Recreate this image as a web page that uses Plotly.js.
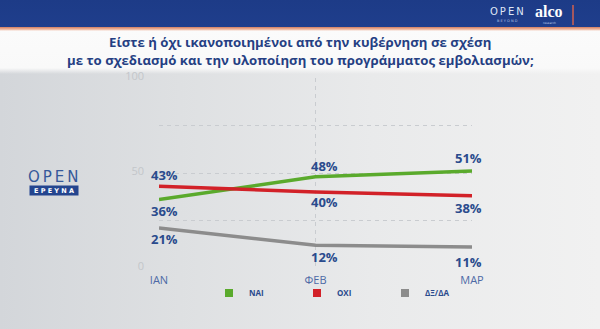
<!DOCTYPE html>
<html><head><meta charset="utf-8">
<script src="https://cdn.plot.ly/plotly-3.0.1.min.js"></script>
<style>
html,body{margin:0;padding:0;background:#f2f2f2;}
#chart{width:600px;height:329px;background:
 linear-gradient(to bottom,#1d3b87 0px,#1f3e8c 27px,#d98a6e 27.5px,#f0bea8 29.5px,#fbfbfb 31px,#f9f9f9 68px,rgba(249,249,249,0) 74px),
 linear-gradient(to right,#d3d6da 0%,#dee0e2 30%,#e9eaeb 62%,#f1f1f1 100%);}
</style></head><body><div id="chart"></div>
<script>
// ---- data ----
const months = ["ΙΑΝ", "ΦΕΒ", "ΜΑΡ"];
const seriesNames = ["ΝΑΙ", "ΟΧΙ", "ΔΞ/ΔΑ"];
const yesValues = [36, 48, 51];
const noValues = [43, 40, 38];
const dknaValues = [21, 12, 11];
const yTickValues = [0, 25, 50, 75, 100];
const yTickLabels = ["0", "", "50", "", "100"];
const titleLines = [
  "Είστε ή όχι ικανοποιημένοι από την κυβέρνηση σε σχέση",
  "με το σχεδιασμό και την υλοποίηση του προγράμματος εμβολιασμών;"
];

// ---- layout helpers ----
const W = 600, H = 329, L = 159, R = 472, T = 78, B = 268;
const fx = px => (px - L) / (R - L);
const fy = py => (B - py) / (B - T);

const colors = ["#5aaa2c", "#d22128", "#8c8c8c"];
const seriesValues = [yesValues, noValues, dknaValues];
const labelShift = [[-11, 11, 13], [11, -10, -12], [-11, -12, -15]];
const labelXShift = [5, 9, -4];
const blueText = "#2a4b8d";

const traces = [];
seriesValues.forEach((vals, s) => {
  traces.push({
    x: months, y: vals, type: "scatter", mode: "lines",
    line: {color: colors[s], width: 3.5}, showlegend: false, hoverinfo: "skip"
  });
});
// legend entries (square swatches)
seriesNames.forEach((name, s) => {
  traces.push({
    x: [null], y: [null], type: "scatter", mode: "markers", name: name,
    marker: {symbol: "square", size: 8, color: colors[s]}, showlegend: true
  });
});

const annotations = [];
seriesValues.forEach((vals, s) => {
  vals.forEach((v, i) => {
    annotations.push({
      x: months[i], y: v, xref: "x", yref: "y", text: v + "%", showarrow: false,
      xanchor: "center", yanchor: "middle",
      yshift: labelShift[s][i], xshift: labelXShift[i],
      font: {family: "Open Sans, sans-serif", size: 13, color: blueText, weight: 700}
    });
  });
});
function paperText(px, py, text, font, extra) {
  annotations.push(Object.assign({
    x: fx(px), y: fy(py), xref: "paper", yref: "paper", text: text,
    showarrow: false, xanchor: "center", yanchor: "middle", font: font
  }, extra || {}));
}
titleLines.forEach((t, k) => {
  paperText(300, 42.5 + k * 17, t, {family: "Open Sans, sans-serif", size: 13.2, color: "#253f83", weight: 700});
});
// left logo
paperText(54, 177, "O\u2009P\u2009E\u2009N", {family: "DejaVu Sans, sans-serif", size: 15, color: "#35589a"});
paperText(54, 190, "Ε Ρ Ε Υ Ν Α", {family: "DejaVu Sans, sans-serif", size: 6.5, color: "#ffffff", weight: 700},
  {bgcolor: "#24458f", width: 48, height: 9, borderpad: 0});
// top-right banner logos
paperText(507, 11, "O\u2009P\u2009E\u2009N", {family: "DejaVu Sans, sans-serif", size: 10, color: "#dfe6f5"});
paperText(507, 21, "B E Y O N D", {family: "DejaVu Sans, sans-serif", size: 3.5, color: "#b9c6e6"});
paperText(549, 11, "alco", {family: "Liberation Serif, serif", size: 16, color: "#ffffff", weight: 700});
paperText(549, 23, "research", {family: "DejaVu Sans, sans-serif", size: 3, color: "#b9c6e6"});

const layout = {
  width: W, height: H,
  margin: {l: L, r: W - R, t: T, b: H - B, pad: 0},
  paper_bgcolor: "rgba(0,0,0,0)", plot_bgcolor: "rgba(0,0,0,0)",
  xaxis: {
    type: "category", range: [0, 2], showgrid: true, gridcolor: "#c9ccd0",
    griddash: "4px,4px", gridwidth: 1, zeroline: false, showline: false, ticks: "",
    tickfont: {family: "Open Sans, sans-serif", size: 11, color: "#4d6aa6"},
    ticklabelstandoff: 4, fixedrange: true
  },
  yaxis: {
    range: [0, 100], tickvals: yTickValues, ticktext: yTickLabels,
    showgrid: true, gridcolor: "#c9ccd0", griddash: "4px,4px", gridwidth: 1,
    zeroline: false, showline: false, ticks: "",
    tickfont: {family: "Open Sans, sans-serif", size: 11, color: "#c3c6ca"},
    ticklabelstandoff: 14, ticklabelshift: -2, fixedrange: true
  },
  showlegend: true,
  legend: {
    orientation: "h", x: fx(209), y: fy(293), xanchor: "left", yanchor: "middle",
    font: {family: "Open Sans, sans-serif", size: 8, color: blueText, weight: 700},
    entrywidth: 43, entrywidthmode: "pixels", itemwidth: 30,
    bgcolor: "rgba(0,0,0,0)", borderwidth: 0
  },
  shapes: [
    {type: "line", xref: "paper", yref: "paper", x0: fx(573), x1: fx(573), y0: fy(5), y1: fy(25),
     line: {color: "#d2604f", width: 1.5}}
  ],
  annotations: annotations
};

Plotly.newPlot("chart", traces, layout, {displayModeBar: false, staticPlot: true});
</script>
</body></html>
